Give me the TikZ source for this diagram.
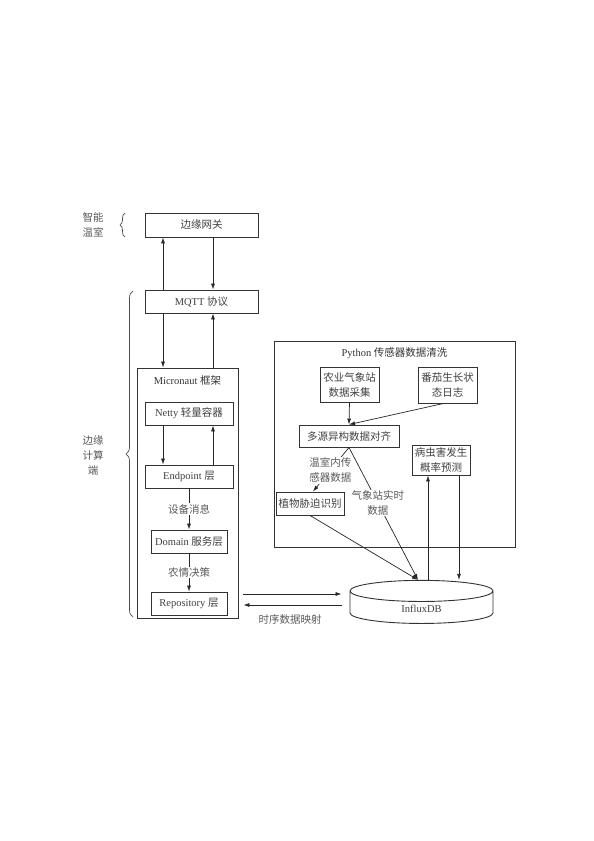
\documentclass[tikz,border=0pt]{standalone}
\usepackage{fontspec}
\setmainfont{Liberation Serif}
\newfontfamily\zhfont{Noto Sans CJK SC}
\newcommand{\zh}[1]{{\zhfont #1}}
\usetikzlibrary{shapes.geometric, positioning, arrows.meta, decorations.pathreplacing}

\begin{document}
\begin{tikzpicture}[
    x=1pt, y=-1pt,
    font=\fontsize{10.5}{15}\selectfont,
    box/.style={rectangle, draw=black!80, line width=0.9pt, text=black!75, inner sep=2pt, align=center},
    frame/.style={rectangle, draw=black!80, line width=0.9pt},
    arrow/.style={-{Latex[length=6pt, width=4pt]}, line width=0.7pt, draw=black!85},
    lbl/.style={text=black!65, align=center},
    brace/.style={decorate, decoration={brace, amplitude=#1}, line width=0.7pt, draw=black!70},
]
\useasboundingbox (0,0) rectangle (594,841);

%% LEFT SIDE
    % greenhouse and gateway
    \node[lbl] (smart) at (93,225) {\zh{智能}\\\zh{温室}};
    \draw[brace=5pt] (125,237) -- (125,213);
    \node[box, minimum width=113pt, minimum height=24pt] (gateway) at (201.5,225) {\zh{边缘网关}};
    \node[box, minimum width=113pt, minimum height=23pt] (mqtt) at (201.5,301.5) {MQTT \zh{协议}};

    \node[lbl] (edge) at (93,456) {\zh{边缘}\\\zh{计算}\\\zh{端}};
    \draw[brace=7pt] (133,617) -- (133,291);

    % micronaut frame
    \node[frame, minimum width=101pt, minimum height=250pt] (micro) at (187.5,493) {};
    \node[lbl, text=black!80, below=5pt of micro.north] (microtitle) {Micronaut \zh{框架}};
    \node[box, minimum width=88pt, minimum height=23pt] (netty) at (189,413.5) {Netty \zh{轻量容器}};
    \node[box, minimum width=88pt, minimum height=23pt] (endpoint) at (189,476.5) {Endpoint \zh{层}};
    \node[box, minimum width=76pt, minimum height=23pt] (domain) at (189,541.5) {Domain \zh{服务层}};
    \node[box, minimum width=76pt, minimum height=23pt] (repo) at (189,603.5) {Repository \zh{层}};

    \coordinate (lx) at (163,0);
    \coordinate (rx) at (213,0);

    \draw[arrow] (lx |- mqtt.north) -- (lx |- gateway.south);
    \draw[arrow] (rx |- gateway.south) -- (rx |- mqtt.north);
    \draw[arrow] (lx |- mqtt.south) -- (lx |- micro.north);
    \draw[arrow] (rx |- micro.north) -- (rx |- mqtt.south);
    \draw[arrow] (lx |- netty.south) -- (lx |- endpoint.north);
    \draw[arrow] (rx |- endpoint.north) -- (rx |- netty.south);
    \draw[arrow] (endpoint.south) -- node[lbl, fill=white, inner sep=1pt] {\zh{设备消息}} (domain.north);
    \draw[arrow] (domain.south) -- node[lbl, fill=white, inner sep=1pt] {\zh{农情决策}} (repo.north);

%% RIGHT SIDE
    % python cleaning
    \node[frame, minimum width=241pt, minimum height=206pt] (python) at (394.5,444) {};
    \node[lbl, text=black!80, below=4pt of python.north] (pytitle) {Python \zh{传感器数据清洗}};
    \node[box, minimum width=59pt, minimum height=35pt] (agri) at (349.5,384.5) {\zh{农业气象站}\\\zh{数据采集}};
    \node[box, minimum width=59pt, minimum height=36pt] (tomato) at (447.5,385) {\zh{番茄生长状}\\\zh{态日志}};
    \node[box, minimum width=100pt, minimum height=22pt] (align) at (349,436) {\zh{多源异构数据对齐}};
    \node[box, minimum width=58pt, minimum height=30pt] (pest) at (441,460) {\zh{病虫害发生}\\\zh{概率预测}};
    \node[box, minimum width=68pt, minimum height=23pt] (stress) at (310,503.5) {\zh{植物胁迫识别}};

    % database
    \node[cylinder, shape border rotate=90, draw=black!80, line width=0.9pt, aspect=0.45,
          minimum width=143pt, minimum height=29pt, text=black!75] (influx) at (421.5,609) {InfluxDB};
    \coordinate (dbin) at ([xshift=-3.5pt]influx.north);
    \coordinate (upx) at (428,0);
    \coordinate (dnx) at (459,0);

    \draw[arrow] (agri.south) -- (align.north);
    \draw[arrow] ([xshift=-4pt]tomato.south) -- (align.north);
    \draw[arrow] (align.south) -- node[lbl, fill=white, inner sep=1pt, pos=0.52] {\zh{温室内传}\\\zh{感器数据}} ([xshift=3pt]stress.north);
    \draw[arrow] (align.south) -- node[lbl, fill=white, inner sep=1pt, pos=0.42] {\zh{气象站实时}\\\zh{数据}} (dbin);
    \draw[arrow] (stress.south) -- (dbin);
    \draw[arrow] (upx |- dbin) -- (upx |- pest.south);
    \draw[arrow] (dnx |- pest.south) -- (dnx |- dbin);

    % mapping between repository and database
    \draw[arrow, shorten <=16pt, shorten >=8pt] ([yshift=9.5pt]repo.east) -- ([yshift=9.5pt]repo.east -| influx.west);
    \draw[arrow, shorten <=8pt, shorten >=16pt] ([yshift=-1.5pt]repo.east -| influx.west) -- ([yshift=-1.5pt]repo.east);
    \node[lbl] (maplabel) at (290,619) {\zh{时序数据映射}};

\end{tikzpicture}
\end{document}
